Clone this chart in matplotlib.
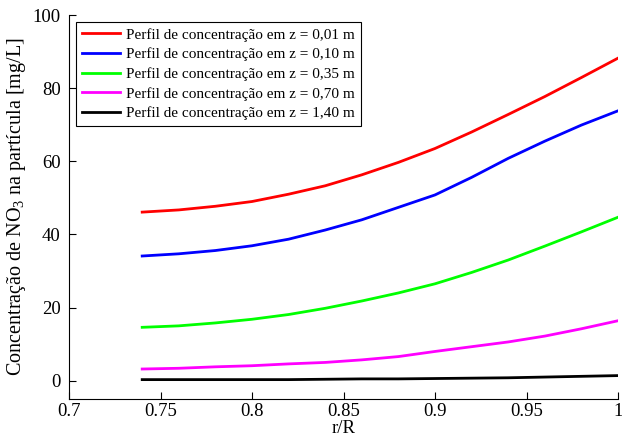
import matplotlib
matplotlib.use("Agg")
import matplotlib.pyplot as plt

plt.rcParams['font.family'] = ['Liberation Serif', 'DejaVu Serif']
plt.rcParams['mathtext.fontset'] = 'custom'
plt.rcParams['mathtext.rm'] = 'Liberation Serif'

r = [0.74, 0.76, 0.78, 0.80, 0.82, 0.84, 0.86, 0.88, 0.90, 0.92, 0.94, 0.96, 0.98, 1.00]
c_001 = [46.1, 46.7, 47.7, 49.0, 51.0, 53.3, 56.3, 59.7, 63.5, 68.0, 72.8, 77.7, 82.9, 88.2]
c_010 = [34.1, 34.7, 35.6, 36.9, 38.7, 41.2, 44.0, 47.4, 50.8, 55.6, 60.8, 65.5, 69.9, 73.8]
c_035 = [14.6, 15.0, 15.8, 16.8, 18.1, 19.8, 21.8, 24.0, 26.5, 29.6, 33.0, 36.8, 40.7, 44.7]
c_070 = [3.2, 3.4, 3.8, 4.1, 4.6, 5.0, 5.7, 6.6, 8.0, 9.3, 10.6, 12.2, 14.2, 16.4]
c_140 = [0.3, 0.3, 0.3, 0.3, 0.3, 0.4, 0.5, 0.5, 0.6, 0.7, 0.8, 1.0, 1.2, 1.4]

series = [
    (c_001, '#ff0000', 'Perfil de concentração em z = 0,01 m'),
    (c_010, '#0000ff', 'Perfil de concentração em z = 0,10 m'),
    (c_035, '#00ff00', 'Perfil de concentração em z = 0,35 m'),
    (c_070, '#ff00ff', 'Perfil de concentração em z = 0,70 m'),
    (c_140, '#000000', 'Perfil de concentração em z = 1,40 m'),
]

xticks = [0.7, 0.75, 0.8, 0.85, 0.9, 0.95, 1.0]
xticklabels = ['0.7', '0.75', '0.8', '0.85', '0.9', '0.95', '1']
yticks = [0, 20, 40, 60, 80, 100]

fig = plt.figure(figsize=(6.22, 4.40), dpi=100)
ax = fig.add_axes([69 / 622, 1 - 399 / 440, (618 - 69) / 622, (399 - 15) / 440])

for vals, col, lab in series:
    ax.plot(r, vals, color=col, lw=2.0, label=lab)

ax.set_xlim(0.7, 1.0)
ax.set_ylim(-5, 100)
ax.set_xticks(xticks)
ax.set_xticklabels(xticklabels)
ax.set_yticks(yticks)
ax.tick_params(direction='in', length=5, width=0.8, labelsize=13.5)
ax.tick_params(axis='x', pad=3)
ax.tick_params(axis='y', pad=6)
ax.spines['top'].set_visible(False)
ax.spines['right'].set_visible(False)
for s in ('left', 'bottom'):
    ax.spines[s].set_linewidth(0.8)

ax.set_xlabel('r/R', fontsize=13.5, labelpad=0)
ax.set_ylabel('Concentração de NO$_3$ na partícula [mg/L]', fontsize=14.5, labelpad=3)

leg = ax.legend(loc='upper left', bbox_to_anchor=(0.012, 0.982), fontsize=11,
                frameon=True, fancybox=False, edgecolor='black', framealpha=1,
                handlelength=2.5, handletextpad=0.4, borderpad=0.4,
                labelspacing=0.38, borderaxespad=0)
leg.get_frame().set_linewidth(0.8)

fig.savefig('out.png', dpi=100)
